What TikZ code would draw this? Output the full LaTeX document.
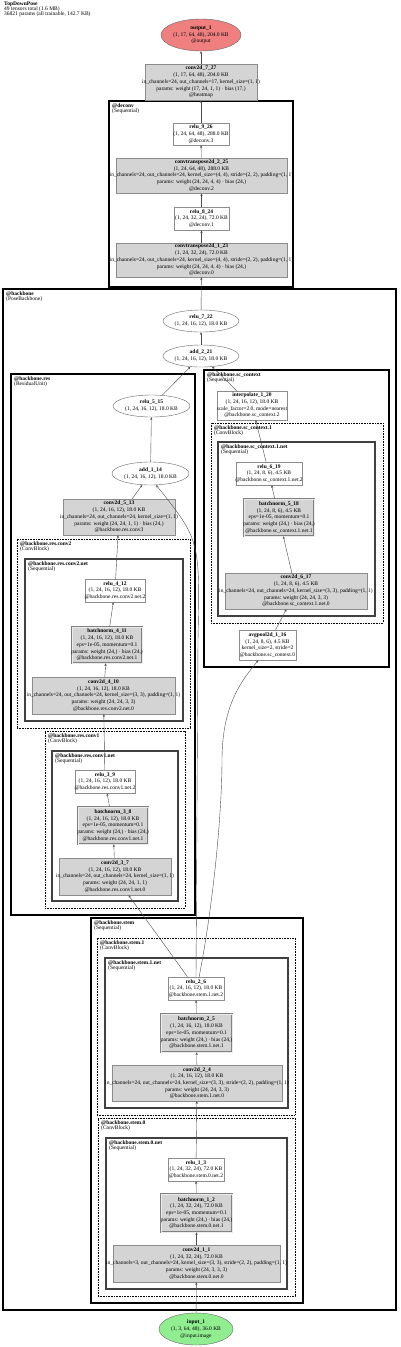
\documentclass[tikz,border=0pt]{standalone}
\usepackage{fontspec}
\setmainfont{Liberation Serif}
\usetikzlibrary{arrows.meta,shapes.geometric}
\newcommand{\Lx}[1]{\makebox[0pt]{#1}}
\definecolor{outred}{HTML}{F08080}
\definecolor{ingreen}{HTML}{90EE90}
\begin{document}
\begin{tikzpicture}[x=1pt,y=-1pt,
  every node/.style={font=\fontsize{5.5}{6.7}\selectfont},
  nodebase/.style={rectangle, inner sep=0pt, align=center, draw=black!45, line width=0.5pt},
  plain/.style={nodebase, fill=white},
  op/.style={nodebase, fill=black!17},
  bn/.style={nodebase, fill=black!17, draw=black!50, line width=0.6pt, double=black!8, double distance=0.9pt},
  ell/.style={ellipse, inner sep=0pt, draw=black!60, line width=0.4pt, fill=white, align=center},
  edge/.style={draw=black!70, line width=0.4pt, -{Stealth[length=2.6pt,width=2.2pt]}},
  clus/.style={rectangle, inner sep=0pt},
  seq/.style={clus, draw=black, line width=1.5pt},
  subseq/.style={clus, draw=black!75, line width=1.5pt},
  cblock/.style={clus, draw=black, line width=1pt, dash pattern=on 0.8pt off 0.8pt},
  clabel/.style={anchor=north west, inner sep=0pt, align=left, font=\fontsize{5.5}{5.3}\selectfont},
]
\fill[white] (0,0) rectangle (400,1347);
\useasboundingbox (0,0) rectangle (400,1347);

% header
\node[clabel] (title) at (4,1.5) {\textbf{TopDownPose}\\49 tensors total (1.6 MB)\\36821 params (all trainable, 142.7 KB)};

% clusters
\node[seq, minimum width=184, minimum height=186] (cdeconv) at (201,194) {};
\node[clabel] (ldeconv) at (112,103) {\textbf{@deconv}\\(Sequential)};
\node[seq, minimum width=393, minimum height=1021] (cbackbone) at (199.5,799.5) {};
\node[clabel] (lbackbone) at (6,291) {\textbf{@backbone}\\(PoseBackbone)};
\node[seq, minimum width=184, minimum height=541] (cres) at (103,644.5) {};
\node[clabel] (lres) at (14,376) {\textbf{@backbone.res}\\(ResidualUnit)};
\node[cblock, minimum width=173, minimum height=189] (cconv2) at (103.5,633.5) {};
\node[clabel] (lconv2) at (20,541) {\textbf{@backbone.res.conv2}\\(ConvBlock)};
\node[subseq, minimum width=158, minimum height=162] (cconv2net) at (104,640) {};
\node[clabel] (lconv2net) at (28,561) {\textbf{@backbone.res.conv2.net}\\(Sequential)};
\node[cblock, minimum width=140, minimum height=177] (cconv1) at (115,819.5) {};
\node[clabel] (lconv1) at (48,733) {\textbf{@backbone.res.conv1}\\(ConvBlock)};
\node[subseq, minimum width=126, minimum height=150] (cconv1net) at (115,826) {};
\node[clabel] (lconv1net) at (55,753) {\textbf{@backbone.res.conv1.net}\\(Sequential)};
\node[seq, minimum width=185, minimum height=297] (csc) at (296.5,518.5) {};
\node[clabel] (lsc) at (207,372) {\textbf{@backbone.sc\_context}\\(Sequential)};
\node[cblock, minimum width=172, minimum height=200] (csc1) at (297,523) {};
\node[clabel] (lsc1) at (214,425) {\textbf{@backbone.sc\_context.1}\\(ConvBlock)};
\node[subseq, minimum width=157, minimum height=174] (csc1net) at (296.5,529) {};
\node[clabel] (lsc1net) at (221,444) {\textbf{@backbone.sc\_context.1.net}\\(Sequential)};
\node[seq, minimum width=212, minimum height=385] (cstem) at (197,1110.5) {};
\node[clabel] (lstem) at (94,920) {\textbf{@backbone.stem}\\(Sequential)};
\node[cblock, minimum width=198, minimum height=177] (cstem1) at (196,1026.5) {};
\node[clabel] (lstem1) at (100,940) {\textbf{@backbone.stem.1}\\(ConvBlock)};
\node[subseq, minimum width=183, minimum height=150] (cstem1net) at (196.5,1033) {};
\node[clabel] (lstem1net) at (108,960) {\textbf{@backbone.stem.1.net}\\(Sequential)};
\node[cblock, minimum width=197, minimum height=178] (cstem0) at (196.5,1207) {};
\node[clabel] (lstem0) at (101,1120) {\textbf{@backbone.stem.0}\\(ConvBlock)};
\node[subseq, minimum width=181, minimum height=151] (cstem0net) at (196.5,1213.5) {};
\node[clabel] (lstem0net) at (109,1140) {\textbf{@backbone.stem.0.net}\\(Sequential)};

% nodes
\node[ell, fill=outred, minimum width=80, minimum height=32] (output1) at (201,35) {\textbf{output\_1}\\(1, 17, 64, 48), 204.0 KB\\@output};
\node[op, minimum width=112, minimum height=36] (conv2727) at (201,82) {\Lx{\textbf{conv2d\_7\_27}}\\\Lx{(1, 17, 64, 48), 204.0 KB}\\\Lx{in\_channels=24, out\_channels=17, kernel\_size=(1, 1)}\\\Lx{params: weight (17, 24, 1, 1) · bias (17,)}\\\Lx{@heatmap}};
\node[plain, minimum width=56, minimum height=22] (relu926) at (201,134) {\Lx{\textbf{relu\_9\_26}}\\\Lx{(1, 24, 64, 48), 288.0 KB}\\\Lx{@deconv.3}};
\node[op, minimum width=171, minimum height=35] (ct225) at (201.5,175.5) {\Lx{\textbf{convtranspose2d\_2\_25}}\\\Lx{(1, 24, 64, 48), 288.0 KB}\\\Lx{in\_channels=24, out\_channels=24, kernel\_size=(4, 4), stride=(2, 2), padding=(1, 1)}\\\Lx{params: weight (24, 24, 4, 4) · bias (24,)}\\\Lx{@deconv.2}};
\node[plain, minimum width=55, minimum height=23] (relu824) at (201.5,218.5) {\Lx{\textbf{relu\_8\_24}}\\\Lx{(1, 24, 32, 24), 72.0 KB}\\\Lx{@deconv.1}};
\node[op, minimum width=171, minimum height=34] (ct123) at (201.5,260) {\Lx{\textbf{convtranspose2d\_1\_23}}\\\Lx{(1, 24, 32, 24), 72.0 KB}\\\Lx{in\_channels=24, out\_channels=24, kernel\_size=(4, 4), stride=(2, 2), padding=(1, 1)}\\\Lx{params: weight (24, 24, 4, 4) · bias (24,)}\\\Lx{@deconv.0}};
\node[ell, minimum width=76, minimum height=22] (relu722) at (201,321) {\textbf{relu\_7\_22}\\(1, 24, 16, 12), 18.0 KB};
\node[ell, minimum width=76, minimum height=22] (add221) at (201,356) {\textbf{add\_2\_21}\\(1, 24, 16, 12), 18.0 KB};
\node[ell, minimum width=77, minimum height=22] (relu515) at (151.5,406) {\textbf{relu\_5\_15}\\(1, 24, 16, 12), 18.0 KB};
\node[ell, minimum width=77, minimum height=23] (add114) at (150.5,473.5) {\textbf{add\_1\_14}\\(1, 24, 16, 12), 18.0 KB};
\node[op, minimum width=112, minimum height=36] (conv513) at (119,517) {\Lx{\textbf{conv2d\_5\_13}}\\\Lx{(1, 24, 16, 12), 18.0 KB}\\\Lx{in\_channels=24, out\_channels=24, kernel\_size=(1, 1)}\\\Lx{params: weight (24, 24, 1, 1) · bias (24,)}\\\Lx{@backbone.res.conv3}};
\node[plain, minimum width=60, minimum height=23] (relu412) at (115,590.5) {\Lx{\textbf{relu\_4\_12}}\\\Lx{(1, 24, 16, 12), 18.0 KB}\\\Lx{@backbone.res.conv2.net.2}};
\node[bn, minimum width=70, minimum height=36] (bn411) at (107,645) {\Lx{\textbf{batchnorm\_4\_11}}\\\Lx{(1, 24, 16, 12), 18.0 KB}\\\Lx{eps=1e-05, momentum=0.1}\\\Lx{params: weight (24,) · bias (24,)}\\\Lx{@backbone.res.conv2.net.1}};
\node[op, minimum width=143, minimum height=37] (conv410) at (103.5,695.5) {\Lx{\textbf{conv2d\_4\_10}}\\\Lx{(1, 24, 16, 12), 18.0 KB}\\\Lx{in\_channels=24, out\_channels=24, kernel\_size=(3, 3), padding=(1, 1)}\\\Lx{params: weight (24, 24, 3, 3)}\\\Lx{@backbone.res.conv2.net.0}};
\node[plain, minimum width=60, minimum height=23] (relu39) at (105,781.5) {\Lx{\textbf{relu\_3\_9}}\\\Lx{(1, 24, 16, 12), 18.0 KB}\\\Lx{@backbone.res.conv1.net.2}};
\node[bn, minimum width=70, minimum height=37] (bn38) at (113,825.5) {\Lx{\textbf{batchnorm\_3\_8}}\\\Lx{(1, 24, 16, 12), 18.0 KB}\\\Lx{eps=1e-05, momentum=0.1}\\\Lx{params: weight (24,) · bias (24,)}\\\Lx{@backbone.res.conv1.net.1}};
\node[op, minimum width=112, minimum height=37] (conv37) at (115,876.5) {\Lx{\textbf{conv2d\_3\_7}}\\\Lx{(1, 24, 16, 12), 18.0 KB}\\\Lx{in\_channels=24, out\_channels=24, kernel\_size=(1, 1)}\\\Lx{params: weight (24, 24, 1, 1)}\\\Lx{@backbone.res.conv1.net.0}};
\node[plain, minimum width=70, minimum height=29] (interp120) at (252,405.5) {\Lx{\textbf{interpolate\_1\_20}}\\\Lx{(1, 24, 16, 12), 18.0 KB}\\\Lx{scale\_factor=2.0, mode=nearest}\\\Lx{@backbone.sc\_context.2}};
\node[plain, minimum width=66, minimum height=23] (relu619) at (269,473.5) {\Lx{\textbf{relu\_6\_19}}\\\Lx{(1, 24, 8, 6), 4.5 KB}\\\Lx{@backbone.sc\_context.1.net.2}};
\node[bn, minimum width=70, minimum height=37] (bn518) at (279,517.5) {\Lx{\textbf{batchnorm\_5\_18}}\\\Lx{(1, 24, 8, 6), 4.5 KB}\\\Lx{eps=1e-05, momentum=0.1}\\\Lx{params: weight (24,) · bias (24,)}\\\Lx{@backbone.sc\_context.1.net.1}};
\node[op, minimum width=142, minimum height=36] (conv617) at (296,591) {\Lx{\textbf{conv2d\_6\_17}}\\\Lx{(1, 24, 8, 6), 4.5 KB}\\\Lx{in\_channels=24, out\_channels=24, kernel\_size=(3, 3), padding=(1, 1)}\\\Lx{params: weight (24, 24, 3, 3)}\\\Lx{@backbone.sc\_context.1.net.0}};
\node[plain, minimum width=57, minimum height=30] (avg116) at (267.5,645) {\Lx{\textbf{avgpool2d\_1\_16}}\\\Lx{(1, 24, 8, 6), 4.5 KB}\\\Lx{kernel\_size=2, stride=2}\\\Lx{@backbone.sc\_context.0}};
\node[plain, minimum width=56, minimum height=23] (relu26) at (196,988.5) {\Lx{\textbf{relu\_2\_6}}\\\Lx{(1, 24, 16, 12), 18.0 KB}\\\Lx{@backbone.stem.1.net.2}};
\node[bn, minimum width=71, minimum height=38] (bn25) at (196.5,1033) {\Lx{\textbf{batchnorm\_2\_5}}\\\Lx{(1, 24, 16, 12), 18.0 KB}\\\Lx{eps=1e-05, momentum=0.1}\\\Lx{params: weight (24,) · bias (24,)}\\\Lx{@backbone.stem.1.net.1}};
\node[op, minimum width=170, minimum height=36] (conv24) at (197,1083) {\Lx{\textbf{conv2d\_2\_4}}\\\Lx{(1, 24, 16, 12), 18.0 KB}\\\Lx{in\_channels=24, out\_channels=24, kernel\_size=(3, 3), stride=(2, 2), padding=(1, 1)}\\\Lx{params: weight (24, 24, 3, 3)}\\\Lx{@backbone.stem.1.net.0}};
\node[plain, minimum width=56, minimum height=23] (relu13) at (196,1169.5) {\Lx{\textbf{relu\_1\_3}}\\\Lx{(1, 24, 32, 24), 72.0 KB}\\\Lx{@backbone.stem.0.net.2}};
\node[bn, minimum width=71, minimum height=38] (bn12) at (196.5,1213) {\Lx{\textbf{batchnorm\_1\_2}}\\\Lx{(1, 24, 32, 24), 72.0 KB}\\\Lx{eps=1e-05, momentum=0.1}\\\Lx{params: weight (24,) · bias (24,)}\\\Lx{@backbone.stem.0.net.1}};
\node[op, minimum width=167, minimum height=37] (conv11) at (196.5,1263.5) {\Lx{\textbf{conv2d\_1\_1}}\\\Lx{(1, 24, 32, 24), 72.0 KB}\\\Lx{in\_channels=3, out\_channels=24, kernel\_size=(3, 3), stride=(2, 2), padding=(1, 1)}\\\Lx{params: weight (24, 3, 3, 3)}\\\Lx{@backbone.stem.0.net.0}};
\node[ell, fill=ingreen, minimum width=74, minimum height=32] (input1) at (196,1329) {\textbf{input\_1}\\(1, 3, 64, 48), 36.0 KB\\@input.image};

% edges
\draw[edge] (input1) -- (conv11);
\draw[edge] (conv11) -- (bn12);
\draw[edge] (bn12) -- (relu13);
\draw[edge] (relu13) -- (conv24);
\draw[edge] (conv24) -- (bn25);
\draw[edge] (bn25) -- (relu26);
\draw[edge] (relu26) -- (conv37);
\draw[edge] (relu26.north) -- (198,640) .. controls (200,540) .. (add114.-64);
\draw[edge] (relu26.75) .. controls (214,900) and (222,810) .. (222,760) .. controls (222,705) and (242,680) .. (avg116.-121);
\draw[edge] (conv37) -- (bn38);
\draw[edge] (bn38) -- (relu39);
\draw[edge] (relu39) -- (conv410);
\draw[edge] (conv410) -- (bn411);
\draw[edge] (bn411) -- (relu412);
\draw[edge] (relu412) -- (conv513);
\draw[edge] (conv513) -- (add114);
\draw[edge] (add114) -- (relu515);
\draw[edge] (relu515) -- (add221);
\draw[edge] (avg116) -- (conv617);
\draw[edge] (conv617) -- (bn518);
\draw[edge] (bn518) -- (relu619);
\draw[edge] (relu619) -- (interp120);
\draw[edge] (interp120) -- (add221);
\draw[edge] (add221) -- (relu722);
\draw[edge] (relu722) -- (ct123);
\draw[edge] (ct123) -- (relu824);
\draw[edge] (relu824) -- (ct225);
\draw[edge] (ct225) -- (relu926);
\draw[edge] (relu926) -- (conv2727);
\draw[edge] (conv2727) -- (output1);
\end{tikzpicture}
\end{document}
